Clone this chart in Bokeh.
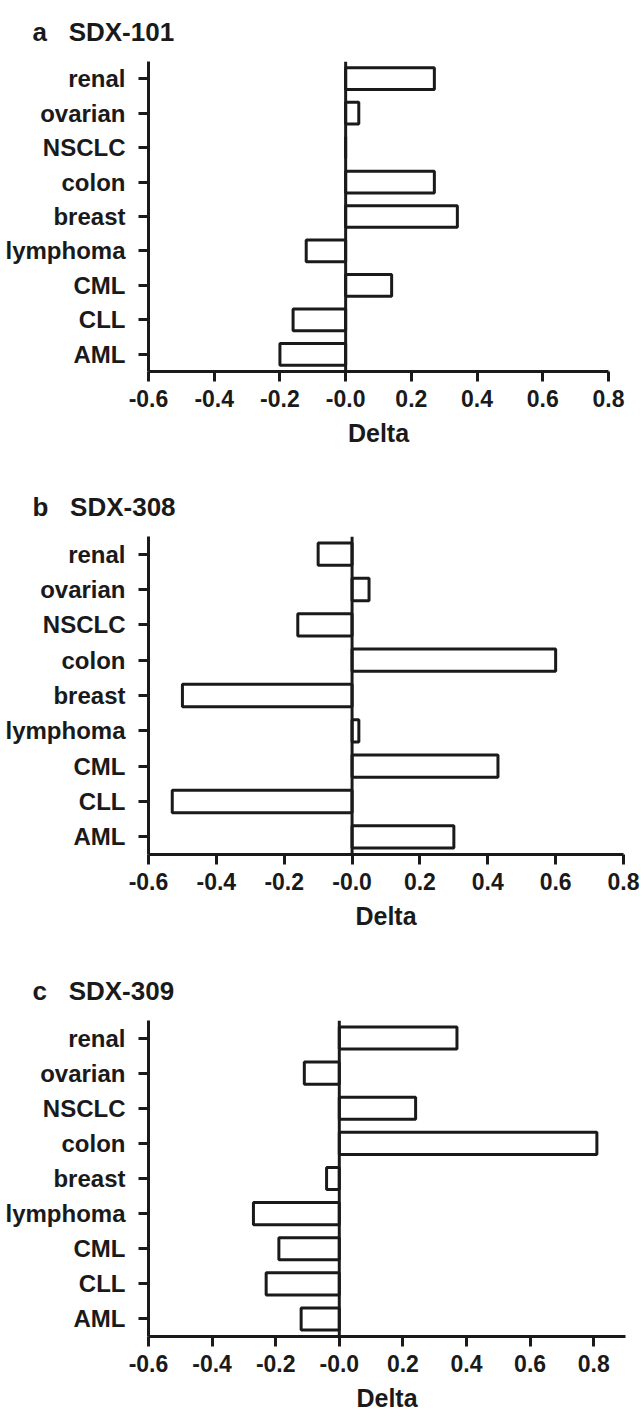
from bokeh.plotting import figure
from bokeh.models import FactorRange, Range1d, FixedTicker, Span
from bokeh.layouts import column
from bokeh.embed import file_html
from bokeh.resources import INLINE

# ---- data ----
categories = ["AML", "CLL", "CML", "lymphoma", "breast", "colon", "NSCLC", "ovarian", "renal"]
sdx101 = [-0.20, -0.16, 0.14, -0.12, 0.34, 0.27, 0.00, 0.04, 0.27]
sdx308 = [0.30, -0.53, 0.43, 0.02, -0.50, 0.60, -0.16, 0.05, -0.10]
sdx309 = [-0.12, -0.23, -0.19, -0.27, -0.04, 0.81, 0.24, -0.11, 0.37]
x_ticks = [-0.6, -0.4, -0.2, 0.0, 0.2, 0.4, 0.6, 0.8]
x_tick_labels = ["-0.6", "-0.4", "-0.2", "-0.0", "0.2", "0.4", "0.6", "0.8"]
panel_titles = ["a\u00a0\u00a0\u00a0SDX-101", "b\u00a0\u00a0\u00a0SDX-308", "c\u00a0\u00a0\u00a0SDX-309"]
x_label = "Delta"

FONT = "Liberation Sans"
INK = "#1a1a1a"
LEFT = 148


def panel(title, values, x_end, frame_w, frame_h, top, bottom):
    p = figure(
        y_range=FactorRange(*categories, range_padding=0),
        x_range=Range1d(-0.6, x_end),
        frame_width=frame_w, frame_height=frame_h,
        min_border_left=LEFT, min_border_right=644 - LEFT - frame_w,
        min_border_top=top, min_border_bottom=bottom,
        output_backend="svg", toolbar_location=None,
        outline_line_color=None, background_fill_color="white",
    )
    p.title.text = title
    p.title.text_font = FONT
    p.title.text_font_style = "bold"
    p.title.text_font_size = "26px"
    p.title.text_color = INK
    p.title.align = "left"
    p.title.offset = -(LEFT - 32)
    p.title.standoff = 29

    p.hbar(y=categories, right=values, left=0, height=0.63,
           fill_color="white", line_color=INK, line_width=3)
    p.add_layout(Span(location=0, dimension="height", line_color=INK, line_width=3))

    p.grid.visible = False
    for ax in (p.xaxis[0], p.yaxis[0]):
        ax.axis_line_width = 3
        ax.axis_line_color = INK
        ax.major_tick_line_width = 3
        ax.major_tick_line_color = INK
        ax.major_tick_in = 0
        ax.major_tick_out = 10
        ax.minor_tick_line_color = None
        ax.major_label_text_font = FONT
        ax.major_label_text_font_style = "bold"
        ax.major_label_text_color = INK

    xa = p.xaxis[0]
    xa.ticker = FixedTicker(ticks=x_ticks)
    xa.major_label_overrides = {t: l for t, l in zip(x_ticks, x_tick_labels)}
    xa.major_label_text_font_size = "23px"
    xa.major_label_standoff = 8
    xa.axis_label = x_label
    xa.axis_label_text_font = FONT
    xa.axis_label_text_font_style = "bold"
    xa.axis_label_text_font_size = "25px"
    xa.axis_label_text_color = INK
    xa.axis_label_standoff = 9

    ya = p.yaxis[0]
    ya.major_label_text_font_size = "24px"
    ya.major_label_standoff = 13
    return p


pa = panel(panel_titles[0], sdx101, 0.8, 460, 310, 60, 100)
pb = panel(panel_titles[1], sdx308, 0.8, 475, 318, 65, 97)
pc = panel(panel_titles[2], sdx309, 0.9, 477, 316, 69, 71)

layout = column(pa, pb, pc, spacing=0)
open("out.html", "w").write(file_html(layout, INLINE))
